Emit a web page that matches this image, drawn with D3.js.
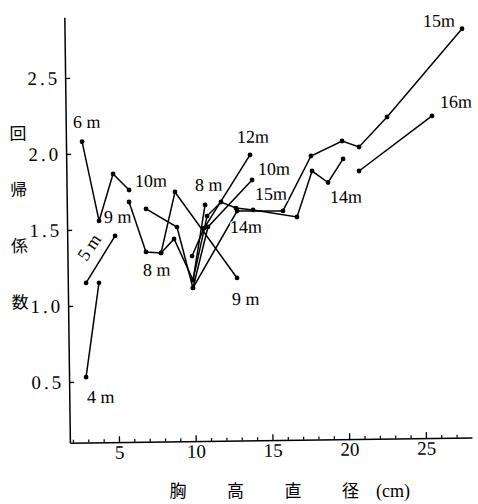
<!DOCTYPE html>
<html>
<head>
<meta charset="utf-8">
<script src="https://cdn.jsdelivr.net/npm/d3@7"></script>
<style>
  html, body { margin: 0; padding: 0; background: #fff; }
  svg { display: block; }
  .serif { font-family: "Liberation Serif", "DejaVu Serif", serif; }
  .cjk { font-family: "Noto Sans CJK JP", "Noto Sans CJK SC", sans-serif; }
</style>
</head>
<body>
<svg id="chart" width="478" height="504"></svg>
<script>
// Regression coefficient against DBH (cm), one polyline per tree-height class
const dbh4m  = [2.91, 3.83];
const coef4m = [0.53, 1.15];

const dbh5m  = [2.99, 4.92];
const coef5m = [1.15, 1.457];

const dbh6m  = [2.85, 3.89, 4.84, 5.87];
const coef6m = [2.08, 1.557, 1.865, 1.758];

const dbh9m  = [5.86, 6.92, 7.90, 8.86, 12.83];
const coef9m = [1.679, 1.349, 1.341, 1.741, 1.17];

const dbh8m  = [7.90, 8.76, 9.96, 10.81];
const coef8m = [1.341, 1.432, 1.16, 1.653];

const dbh10m  = [6.96, 8.96, 9.95, 10.98, 13.89];
const coef10m = [1.632, 1.51, 1.108, 1.508, 1.813];

const dbh12m  = [9.92, 10.72, 13.78];
const coef12m = [1.318, 1.50, 1.978];

const dbh14m  = [9.96, 10.93, 11.85, 12.82, 13.93, 16.79, 17.81, 18.84, 19.84];
const coef14m = [1.16, 1.58, 1.671, 1.63, 1.616, 1.566, 1.867, 1.79, 1.944];

const dbh15m  = [9.95, 12.89, 15.88, 17.75, 19.79, 20.89, 22.74, 27.70];
const coef15m = [1.108, 1.61, 1.607, 1.966, 2.062, 2.021, 2.216, 2.79];

const dbh16m  = [20.87, 25.67];
const coef16m = [1.863, 2.219];

// Height-class labels and where they sit (in DBH / coefficient units)
const labelText = ["6 m", "10m", "9 m", "5 m", "8 m", "8 m", "12m", "10m", "15m", "14m", "9 m", "14m", "15m", "16m", "4 m"];
const labelDbh  = [2.27, 6.26, 4.21, 3.21, 6.71, 10.17, 12.94, 14.29, 14.07, 12.41, 12.48, 18.95, 25.16, 26.2, 2.95];
const labelCoef = [2.17, 1.777, 1.543, 1.386, 1.191, 1.746, 2.058, 1.845, 1.681, 1.466, 0.992, 1.655, 2.805, 2.271, 0.36];
const labelTilt = [0, 0, 0, -55, 0, 0, 0, 0, 0, 0, 0, 0, 0, 0, 0];

// Axis ticks and titles
const xTicks = [5, 10, 15, 20, 25];
const xMinorTicks = [2, 3, 4, 6, 7, 8, 9, 11, 12, 13, 14, 16, 17, 18, 19, 21, 22, 23, 24, 26, 27];
const yTicks = [0.5, 1.0, 1.5, 2.0, 2.5];
const yTitleChars = ["回", "帰", "係", "数"];
const xTitleChars = ["胸", "高", "直", "径"];
const xTitleUnit = "(cm)";

const series = [
  [dbh4m, coef4m], [dbh5m, coef5m], [dbh6m, coef6m], [dbh9m, coef9m],
  [dbh8m, coef8m], [dbh10m, coef10m], [dbh12m, coef12m], [dbh14m, coef14m],
  [dbh15m, coef15m], [dbh16m, coef16m]
].map(([xs, ys]) => xs.map((v, i) => [v, ys[i]]));

const x = d3.scaleLinear().domain([1.8, 28]).range([69.9, 472]);
const y = d3.scaleLinear().domain([0.1, 2.9]).range([442.8, 17.2]);

const svg = d3.select("#chart");
svg.append("rect").attr("width", 478).attr("height", 504).attr("fill", "#fff");

// the printed plot sits very slightly rotated on the page
const g = svg.append("g").attr("transform", `rotate(-0.75, ${x(1.8)}, ${y(0.1)})`);

// y axis
const yAxis = d3.axisLeft(y)
  .tickValues(yTicks)
  .tickFormat(d3.format(".1f"))
  .tickSizeInner(-5)
  .tickSizeOuter(0)
  .tickPadding(5);
const gy = g.append("g").attr("transform", `translate(${x(1.8)},0)`).call(yAxis);
gy.attr("font-family", null).attr("font-size", null);
gy.select(".domain").attr("stroke", "#000").attr("stroke-width", 1.5);
gy.selectAll(".tick line").attr("stroke", "#000").attr("stroke-width", 1.3);
gy.selectAll(".tick text")
  .attr("class", "serif").attr("font-size", 19).attr("fill", "#000")
  .style("letter-spacing", "3px");

// x axis, major and minor ticks
const xAxis = d3.axisBottom(x)
  .tickValues(xTicks)
  .tickSizeInner(-6)
  .tickSizeOuter(0)
  .tickPadding(3);
const gx = g.append("g").attr("transform", `translate(0,${y(0.1)})`).call(xAxis);
gx.attr("font-family", null).attr("font-size", null);
gx.select(".domain").attr("stroke", "#000").attr("stroke-width", 1.5);
gx.selectAll(".tick line").attr("stroke", "#000").attr("stroke-width", 1.3);
gx.selectAll(".tick text").attr("class", "serif").attr("font-size", 19).attr("fill", "#000");

const gxm = g.append("g").attr("transform", `translate(0,${y(0.1)})`)
  .call(d3.axisBottom(x).tickValues(xMinorTicks).tickSize(-3).tickFormat(""));
gxm.select(".domain").remove();
gxm.selectAll(".tick line").attr("stroke", "#000").attr("stroke-width", 1.2);

// polylines per height class
const line = d3.line().x(d => x(d[0])).y(d => y(d[1]));
g.append("g").selectAll("path")
  .data(series)
  .join("path")
  .attr("d", line)
  .attr("fill", "none")
  .attr("stroke", "#000")
  .attr("stroke-width", 1.5);

g.append("g").selectAll("circle")
  .data(series.flat())
  .join("circle")
  .attr("cx", d => x(d[0]))
  .attr("cy", d => y(d[1]))
  .attr("r", 2.4)
  .attr("fill", "#000");

// height-class labels with a white halo that breaks the lines beneath
g.append("g").selectAll("text")
  .data(labelText.map((t, i) => ({ t, dbh: labelDbh[i], coef: labelCoef[i], tilt: labelTilt[i] })))
  .join("text")
  .attr("class", "serif")
  .attr("transform", d => d.tilt
    ? `translate(${x(d.dbh)},${y(d.coef)}) rotate(${d.tilt})`
    : `translate(${x(d.dbh)},${y(d.coef)})`)
  .attr("text-anchor", d => d.tilt ? "middle" : "start")
  .attr("dy", d => d.tilt ? "0.35em" : 0)
  .attr("font-size", 18)
  .attr("fill", "#000")
  .attr("stroke", "#fff")
  .attr("stroke-width", 2.5)
  .attr("paint-order", "stroke")
  .text(d => d.t);

// y title, stacked vertically
g.append("g").selectAll("text")
  .data(yTitleChars)
  .join("text")
  .attr("class", "cjk")
  .attr("x", 22)
  .attr("y", (d, i) => 133 + i * 56.3)
  .attr("dy", "0.35em")
  .attr("text-anchor", "middle")
  .attr("font-size", 17)
  .attr("fill", "#000")
  .text(d => d);

// x title
svg.append("g").selectAll("text")
  .data(xTitleChars)
  .join("text")
  .attr("class", "cjk")
  .attr("x", (d, i) => 178 + i * 57.5)
  .attr("y", 497)
  .attr("text-anchor", "middle")
  .attr("font-size", 17)
  .attr("fill", "#000")
  .text(d => d);
svg.append("text")
  .attr("class", "serif")
  .attr("x", 376)
  .attr("y", 497)
  .attr("font-size", 18)
  .attr("fill", "#000")
  .text(xTitleUnit);
</script>
</body>
</html>
